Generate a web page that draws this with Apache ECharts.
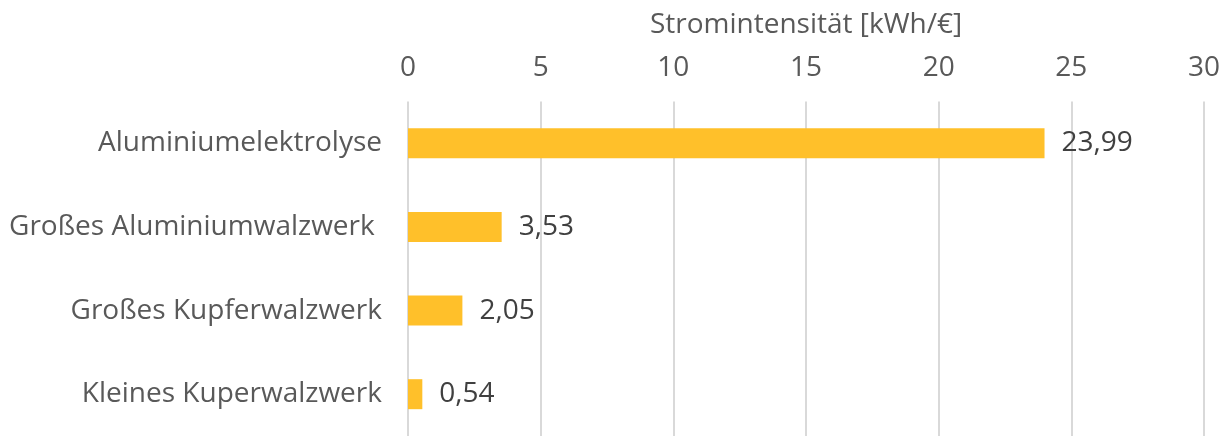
<!DOCTYPE html>
<html><head><meta charset="utf-8">
<script src="https://cdn.jsdelivr.net/npm/echarts@6/dist/echarts.min.js"></script>
<style>html,body{margin:0;padding:0;background:#fff}#c{width:1228px;height:436px}</style>
</head><body><div id="c"></div>
<script>
const categories = ["Aluminiumelektrolyse", "Großes Aluminiumwalzwerk ", "Großes Kupferwalzwerk", "Kleines Kuperwalzwerk"];
const values = [23.99, 3.53, 2.05, 0.54];
const axisTitle = "Stromintensität [kWh/€]";
const FONT = "'Open Sans', 'DejaVu Sans', sans-serif";
const chart = echarts.init(document.getElementById('c'));
chart.setOption({
  animation: false,
  grid: { left: 408, right: 24, top: 101.5, height: 338.7, containLabel: false },
  xAxis: {
    type: 'value', position: 'top', min: 0, max: 30, interval: 5,
    name: axisTitle, nameLocation: 'middle', nameGap: 62,
    nameTextStyle: { color: '#595959', fontSize: 28, fontFamily: FONT },
    axisLine: { show: false }, axisTick: { show: false },
    axisLabel: { color: '#595959', fontSize: 28, fontFamily: FONT, margin: 19 },
    splitLine: { show: true, lineStyle: { color: '#d9d9d9', width: 2 } }
  },
  yAxis: {
    type: 'category', data: categories, inverse: true,
    axisLine: { show: false }, axisTick: { show: false },
    axisLabel: { color: '#595959', fontSize: 28, fontFamily: FONT, margin: 26 }
  },
  series: [{
    type: 'bar', data: values, barWidth: 30,
    itemStyle: { color: '#FFC02A' },
    label: { show: true, position: 'right', distance: 17, color: '#404040', fontSize: 28, fontFamily: FONT,
      formatter: p => p.value.toFixed(2).replace('.', ',') }
  }]
});
</script></body></html>
